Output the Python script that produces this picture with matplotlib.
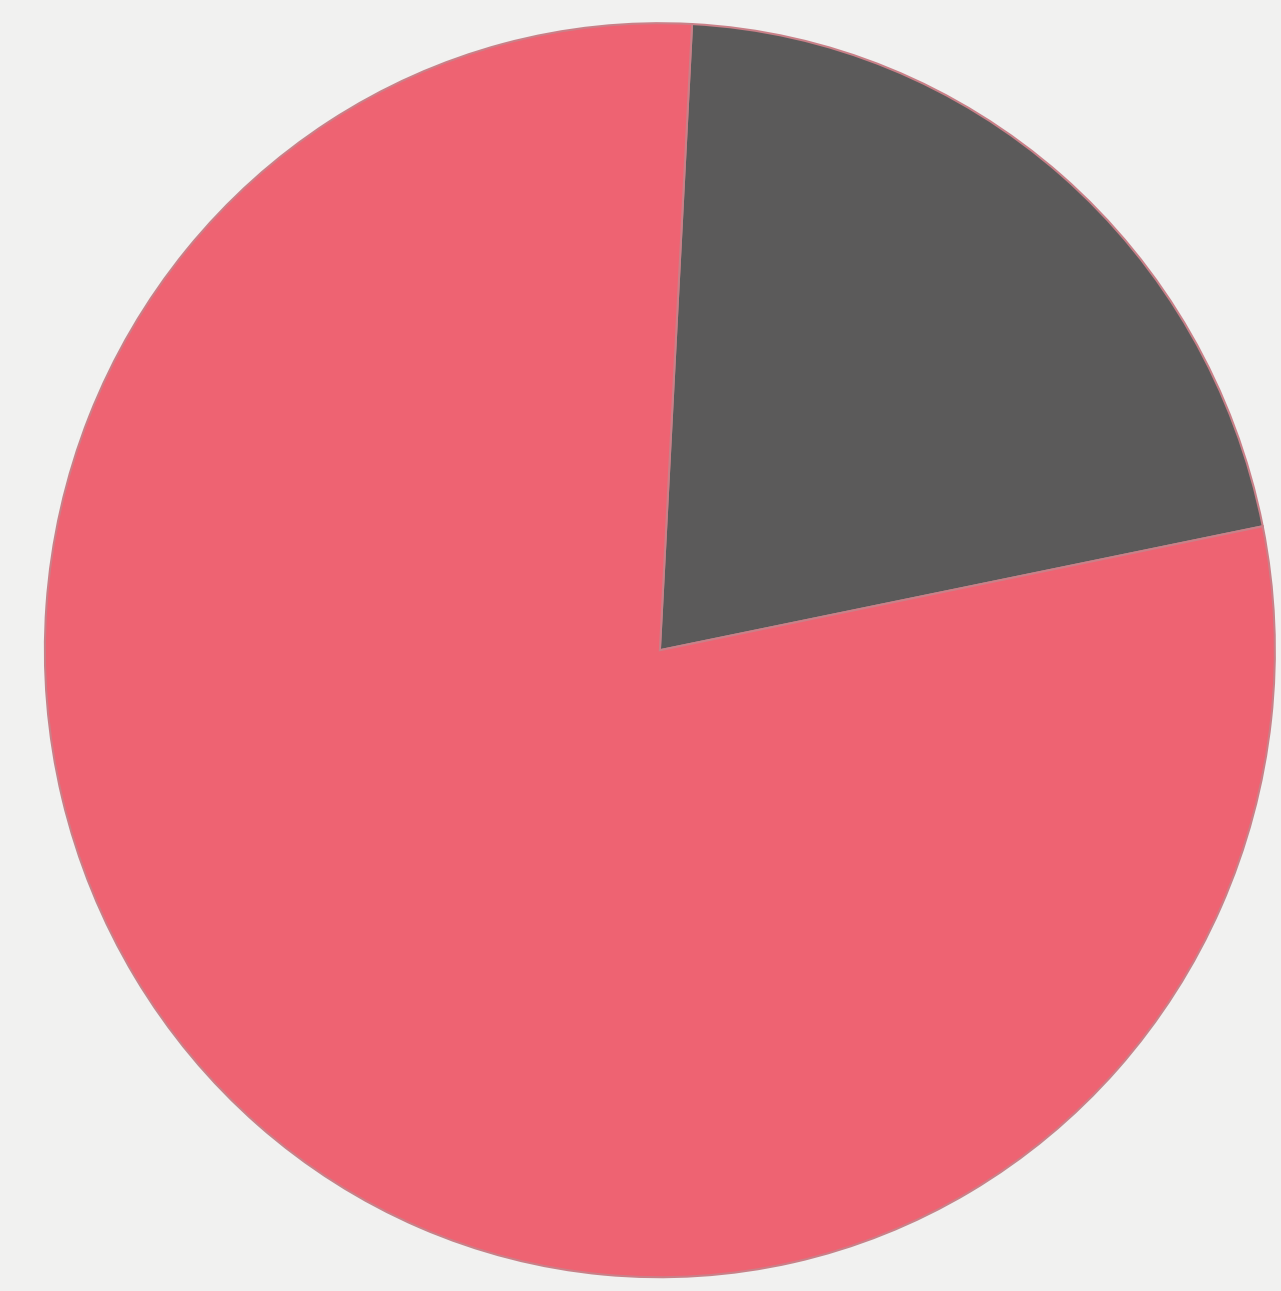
import matplotlib
matplotlib.use("Agg")
import matplotlib.pyplot as plt

labels = ["Gray", "Pink"]
values = [21, 79]
colors = ["#5b5a5a", "#ee6372"]

fig = plt.figure(figsize=(12.81, 12.91), dpi=100)
fig.patch.set_facecolor("#f1f1f0")
ax = fig.add_axes([0, 0, 1, 1])
ax.set_facecolor("#f1f1f0")
ax.pie(values, colors=colors, startangle=87, counterclock=False,
       wedgeprops=dict(edgecolor="#c98088", linewidth=1.5))
ax.set_aspect("auto")
ax.set_xlim(-1.073, 1.010)
ax.set_ylim(-1.022, 1.037)
ax.axis("off")
fig.savefig("out.png", dpi=100, facecolor=fig.get_facecolor())
